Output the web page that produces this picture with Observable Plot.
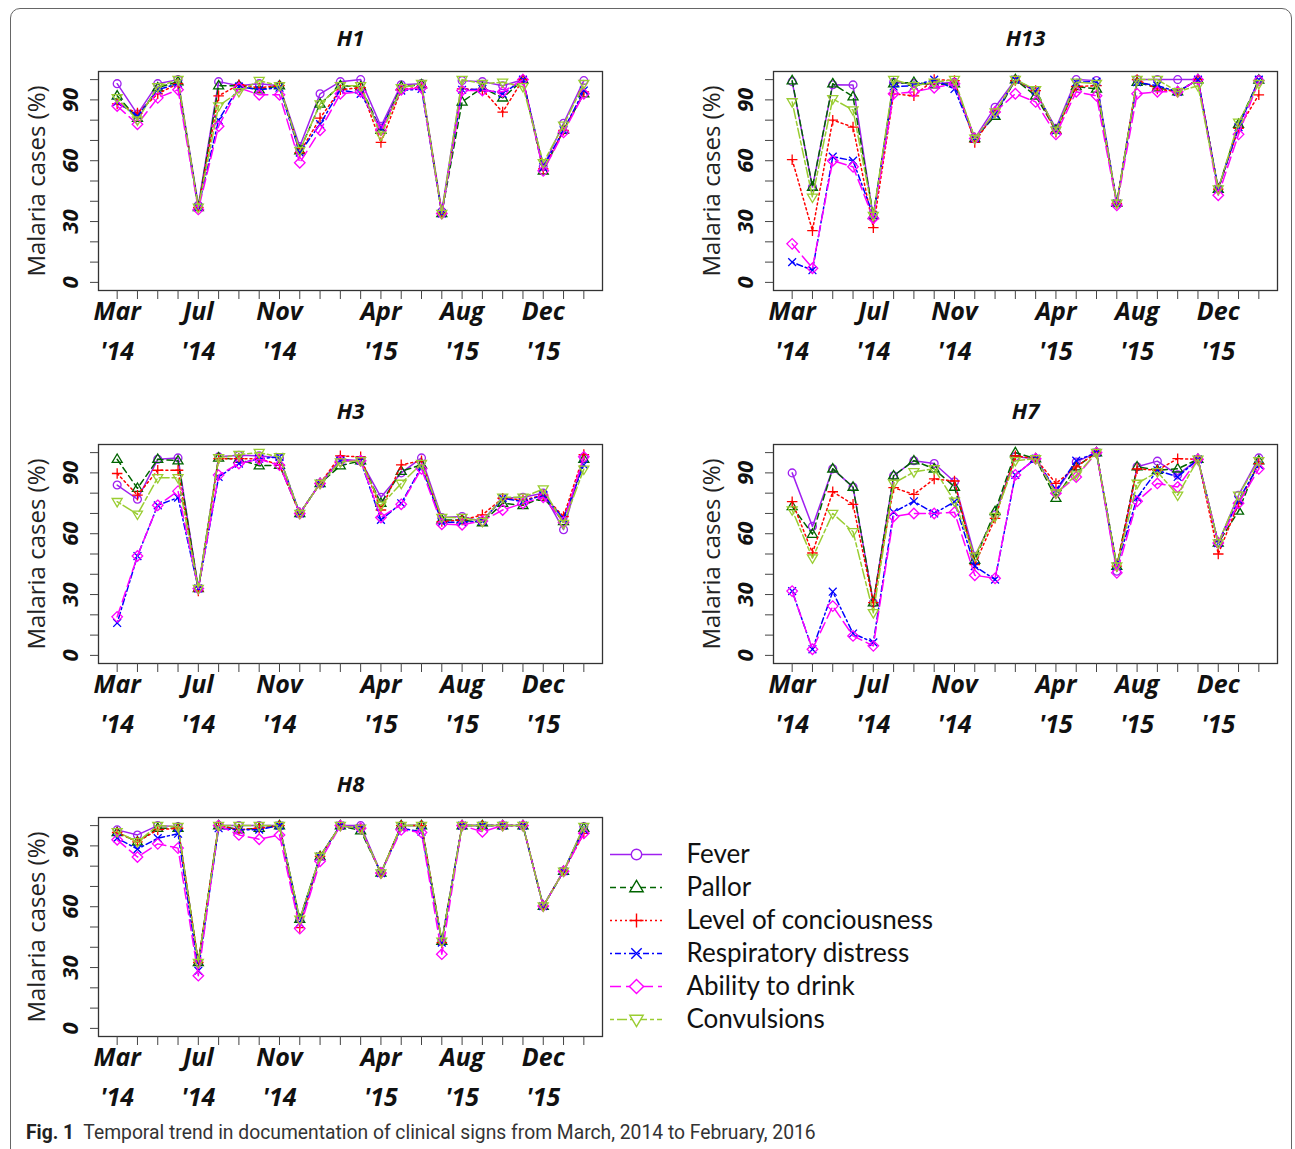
<!DOCTYPE html>
<html>
<head>
<meta charset="utf-8">
<script src="https://cdn.jsdelivr.net/npm/d3@7"></script>
<script src="https://cdn.jsdelivr.net/npm/@observablehq/plot@0.6"></script>
<style>
  html, body { margin: 0; padding: 0; background: #fff; overflow: hidden; }
  #page { position: relative; width: 1295px; height: 1149px; overflow: hidden; }
  #border { position: absolute; left: 10px; top: 8px; width: 1282px; height: 1200px;
            border: 1.5px solid #666; border-radius: 10px; box-sizing: border-box; }
  .panel { position: absolute; }
  #caption { position: absolute; left: 26px; top: 1121px; font-family: "Liberation Sans Narrow", "Roboto", sans-serif;
             font-size: 19.3px; color: #333; white-space: nowrap; }
  #caption b { color: #222; }
</style>
</head>
<body>
<div id="page">
  <div id="border"></div>
  <div id="caption"><b>Fig. 1</b>&nbsp; Temporal trend in documentation of clinical signs from March, 2014 to February, 2016</div>
</div>
<script>
// ---------- data ----------
const months = ["Mar '14","Apr '14","May '14","Jun '14","Jul '14","Aug '14","Sep '14","Oct '14","Nov '14","Dec '14","Jan '15","Feb '15",
                "Mar '15","Apr '15","May '15","Jun '15","Jul '15","Aug '15","Sep '15","Oct '15","Nov '15","Dec '15","Jan '16","Feb '16"];
const labelMonths = ["Mar '14","Jul '14","Nov '14","Apr '15","Aug '15","Dec '15"];
const seriesNames = ["Fever","Pallor","Level of conciousness","Respiratory distress","Ability to drink","Convulsions"];
const seriesColors = ["#A020F0","#006400","#FF0000","#0000FF","#FF00FF","#9ACD32"];
const yTicks = [0,10,20,30,40,50,60,70,80,90,100];
const yLabels = [0,30,60,90];

const H1_fever   = [98,83,98,100,38,99,97,98,97,67,93,99,100,77,97.5,98,35,99.5,99,97,100,57,78.5,99.5];
const H1_pallor  = [92,81,96,99,37,97,97,95,97,65,88,97,96.5,75,96.5,97.5,34,89,96,91,99.8,55,75,93];
const H1_level   = [88,83.5,93,98,37,92,97.5,96,97,64,81,95,96,69,95,96.5,34,95.4,95,84,100,56,75,94];
const H1_resp    = [89,82,95,98,37,80,96.5,95,96,64,78,95,93,76,94.6,95.4,34,95,95.4,93,100,57,75,94.6];
const H1_drink   = [87,78,91,95,36,77,96,92.5,92.5,59,75,93,94,75,95,96,34,94.6,94.6,94,100,55,74,93];
const H1_conv    = [91,80,96.5,100,37,87,94,99.5,97,65,88,97,97,72.5,96,98,34,100,98,98.7,96.5,59,77.5,98];

const H13_fever  = [99,47,97.5,97.4,32,98.7,98,98,98.7,71,86.4,100,94,76,100,99.5,39,100,100,100,100,46,77,100];
const H13_pallor = [99.5,47,98,91.6,33,98,98.7,97.5,98,71,82,100,92,75,96.6,95.4,39,98.7,96,94,100,46,78,99.8];
const H13_level  = [60.5,25.5,80,76.6,27,93,92,100,99.5,69,84,99.5,94.6,74,96.6,97,39,100,95.4,94,100,46,76,92.5];
const H13_resp   = [10,6,62,60,33,96.6,97,100,95.4,71,83,100,94.6,75,98.7,99,39,98.7,97,94,100,46,76.6,100];
const H13_drink  = [19,7,60,57,31.6,93,94,96,98,71,84,93,89,73,94,92,38,93,94,94,100,43,73,99.5];
const H13_conv   = [89,42,90.5,85,33,100,97,98.7,100,71,84,100,95,75,98.7,98,39,100,100,94,97,46,79,98];

const H3_fever   = [84,77,96.7,97.4,33,97.9,98.7,98.4,97.4,70,84.8,96.7,96,78,90,97.4,68,68.5,66,77.5,78,80,62,97.4];
const H3_pallor  = [96.7,82.4,96.7,96,33,97.4,96.7,93.5,93.8,70,84.8,93.5,96,75,90.8,94,66.8,66.8,65.5,75,74,78,66,96.7];
const H3_level   = [89.7,79,91.3,91.3,31.7,97,97,97,94,70,84.8,98.4,97.9,71.7,94,96,66,66.8,69.3,77.5,76.6,79,68.5,99];
const H3_resp    = [16,49,74,77.8,33,88,94.6,97,97.9,70,84.8,96,96,66.8,75,93,65.7,65.7,66.3,77.5,75.8,79,67.6,94];
const H3_drink   = [19,49,74,81,33,88.9,94.6,96.7,93.8,70,84.8,95.8,96,68,74.5,92,64.7,64.4,66.3,71.7,75,78,65.7,97.9];
const H3_conv    = [75.8,69.6,87.6,87.6,33,97.4,99,100,97.9,70,84.8,95.4,96,74,84.8,94.6,68,68,66,78,78,82,65,91.8];

const H7_fever   = [90,63.6,92,83,26,88.6,96,94.6,85.6,48.9,69.3,98,97,80.7,95.4,100,41.5,93,95.8,89,96.7,55.4,79,97.4];
const H7_pallor  = [73.4,59.8,92,83,26,88.6,96,92,83,47,71,100,97,77.5,93,100,44,93,91.3,92,96.7,55.4,71.2,96];
const H7_level   = [75.8,50.5,80.7,74.5,26,82.7,79.4,87,86,44.8,67.6,98.4,97,84.8,93,100,44,92,91.3,97,96.7,50,75,94.6];
const H7_resp    = [31.7,3,31.4,10.8,6.4,70.6,76,70,75.8,44,37.4,89,97,81.5,96,100,44,77.8,91.3,88,96.7,55.4,76.6,94];
const H7_drink   = [31.7,3,24.3,9.6,4.7,68.5,70,70,70.6,39.5,38,89,97,80,88,100,40.7,76,84.8,83,96.7,55.4,75,92];
const H7_conv    = [71.7,48,70,61,21,84.8,90.5,92,76,48.9,68.5,96,97,80,88.9,100,44,84.8,90.5,79,96.7,55.4,79,96];

const H8_fever   = [97.9,95.4,100,99.5,32.5,100,100,100,100,53.8,84.8,100,100,76.6,100,100,43,100,100,100,100,60.3,77.5,99.5];
const H8_pallor  = [96.6,92,98.7,98.7,32.5,100,98,98.7,100,53.8,84.8,100,97.5,76.6,100,100,43,100,100,100,100,60.3,77.5,98.7];
const H8_level   = [96.6,92,98,98.7,32.5,100,98,98.7,100,49.7,84.8,100,98.7,76.6,100,100,42.3,100,100,100,100,60.3,77.5,96.2];
const H8_resp    = [93.8,88.4,93.8,96,28.4,98.7,97.9,98,100,52,84.8,100,98.7,76.6,98.7,97,42.3,100,100,100,100,60.3,77.5,98];
const H8_drink   = [93,84.5,91,88.9,26,100,95.4,93.3,95.4,49.2,82.4,100,98.7,76.6,97.9,96.6,36.6,100,97,100,100,60.3,77.5,96.2];
const H8_conv    = [97,92,100,99.5,32.5,100,100,100,100,53.8,84.8,100,98.7,76.6,100,100,43,100,100,100,100,60.3,77.5,99.5];

// ---------- styles ----------
const dashes = ["none", "6,4", "2,3", "2,3,6,3", "11,5", "4,3,10,3"];
function rad(s) { return Math.sqrt(s / Math.PI); }
const symbols = [
  { draw(c, s) { const r = rad(s); c.moveTo(r, 0); c.arc(0, 0, r, 0, 2 * Math.PI); c.closePath(); } },
  { draw(c, s) { const r = rad(s) * 1.35; c.moveTo(0, -r); c.lineTo(r * 0.95, r * 0.6); c.lineTo(-r * 0.95, r * 0.6); c.closePath(); } },
  { draw(c, s) { const r = rad(s) * 1.35; c.moveTo(-r, 0); c.lineTo(r, 0); c.moveTo(0, -r); c.lineTo(0, r); } },
  { draw(c, s) { const r = rad(s) * 1.0; c.moveTo(-r, -r); c.lineTo(r, r); c.moveTo(-r, r); c.lineTo(r, -r); } },
  { draw(c, s) { const r = rad(s) * 1.35; c.moveTo(0, -r); c.lineTo(r, 0); c.lineTo(0, r); c.lineTo(-r, 0); c.closePath(); } },
  { draw(c, s) { const r = rad(s) * 1.35; c.moveTo(0, r); c.lineTo(r * 0.95, -r * 0.6); c.lineTo(-r * 0.95, -r * 0.6); c.closePath(); } }
];

const FONT = "'Open Sans', 'DejaVu Sans', sans-serif";

function panel(title, values) {
  const rows = values.flatMap((vals, si) => vals.map((v, i) => ({ month: months[i], i, v, s: seriesNames[si] })));
  const marks = [
    Plot.frame({ stroke: "#333", strokeWidth: 1.3 }),
    Plot.axisY({ ticks: yTicks, tickSize: 8, tickFormat: () => "", stroke: "#444", label: null }),
    Plot.axisX({ ticks: d3.range(months.length), tickSize: 9, tickFormat: () => "", stroke: "#444", label: null }),
    Plot.text(yLabels, { y: d => d, text: d => String(d), frameAnchor: "left", textAnchor: "middle", dx: -28, rotate: -90,
      fontSize: 22, fontWeight: "bold", fontStyle: "italic", fill: "#111" }),
    Plot.text(labelMonths, { x: d => months.indexOf(d), text: d => d.replace(" ", "\n"), frameAnchor: "bottom",
      dy: 37, lineAnchor: "middle", lineHeight: 1.6, fontSize: 25, fontWeight: "bold", fontStyle: "italic", fill: "#111" }),
    Plot.text([title], { frameAnchor: "top", dy: -33, lineAnchor: "middle", fontSize: 22, fontWeight: "bold", fontStyle: "italic", fill: "#111" }),
    Plot.text(["Malaria cases (%)"], { frameAnchor: "left", textAnchor: "middle", dx: -61, rotate: -90, fontSize: 24, fill: "#222" })
  ];
  seriesNames.forEach((name, si) => {
    const d = rows.filter(r => r.s === name);
    marks.push(Plot.line(d, { x: "i", y: "v", stroke: seriesColors[si], strokeWidth: 1.5, strokeDasharray: dashes[si] }));
    marks.push(Plot.dot(d, { x: "i", y: "v", r: 3.9, symbol: symbols[si], stroke: seriesColors[si], fill: "none", strokeWidth: 1.3 }));
  });
  return Plot.plot({
    width: 640, height: 360,
    marginLeft: 88, marginRight: 48, marginTop: 51, marginBottom: 90,
    style: { fontFamily: FONT, background: "transparent", overflow: "visible" },
    x: { domain: [-0.92, months.length - 1 + 0.92], axis: null },
    y: { domain: [-4, 104], axis: null },
    marks
  });
}

function legend() {
  const marks = [];
  seriesNames.forEach((name, si) => {
    marks.push(Plot.ruleY([name], { y: d => d, x1: 10, x2: 62, stroke: seriesColors[si], strokeWidth: 1.5, strokeDasharray: dashes[si] }));
    marks.push(Plot.dot([name], { x: 36, y: d => d, r: 5.2, symbol: symbols[si], stroke: seriesColors[si], fill: "#fff", strokeWidth: 1.4 }));
  });
  marks.push(Plot.text(seriesNames, { x: 86, y: d => d, text: d => d, textAnchor: "start", fontSize: 26, fill: "#111",
    fontFamily: "Lato, 'Open Sans', sans-serif" }));
  return Plot.plot({
    width: 350, height: 210, margin: 0,
    style: { background: "transparent", overflow: "visible" },
    x: { domain: [0, 350], range: [0, 350], axis: null },
    y: { type: "point", domain: seriesNames, range: [23, 189], padding: 0, axis: null },
    marks
  });
}

const page = document.getElementById("page");
function place(node, left, top) {
  node.classList.add("panel");
  node.style.left = left + "px";
  node.style.top = top + "px";
  page.appendChild(node);
}
place(panel("H1",  [H1_fever, H1_pallor, H1_level, H1_resp, H1_drink, H1_conv]), 10, 20);
place(panel("H13", [H13_fever, H13_pallor, H13_level, H13_resp, H13_drink, H13_conv]), 685, 20);
place(panel("H3",  [H3_fever, H3_pallor, H3_level, H3_resp, H3_drink, H3_conv]), 10, 393);
place(panel("H7",  [H7_fever, H7_pallor, H7_level, H7_resp, H7_drink, H7_conv]), 685, 393);
place(panel("H8",  [H8_fever, H8_pallor, H8_level, H8_resp, H8_drink, H8_conv]), 10, 766);
place(legend(), 600, 830);
</script>
</body>
</html>
